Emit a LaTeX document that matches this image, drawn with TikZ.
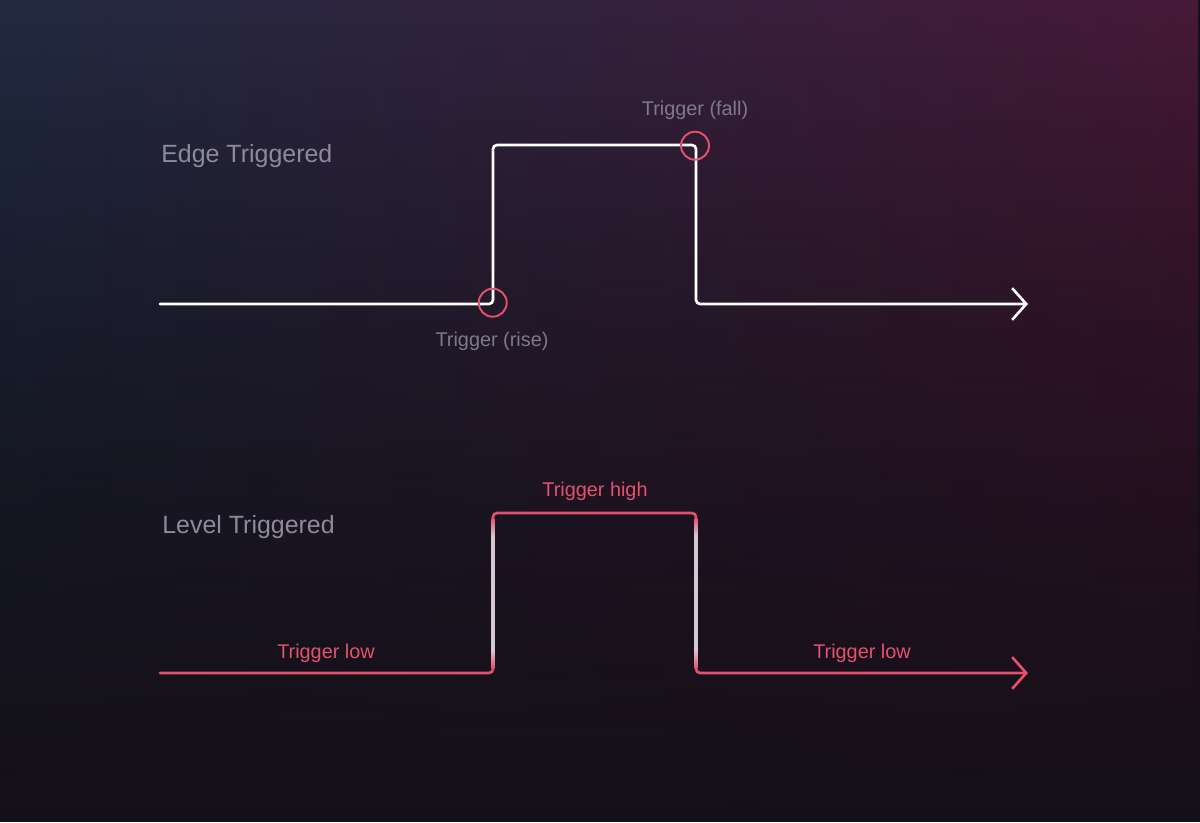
\documentclass[tikz,border=0pt]{standalone}
\usepackage{fontspec}
\setmainfont{Liberation Sans}
\usetikzlibrary{arrows.meta,fadings,positioning}

\definecolor{bgbottom}{HTML}{161119}
\definecolor{bgleft}{HTML}{222B42}
\definecolor{bgright}{HTML}{471A39}
\definecolor{trigred}{HTML}{E5506E}
\definecolor{titlegray}{HTML}{8E8A9C}
\definecolor{notegray}{HTML}{7E798B}
\definecolor{levelwhite}{HTML}{D4C8D3}
\pgfdeclareverticalshading{edgeshade}{100bp}{color(0bp)=(trigred); color(25bp)=(trigred); color(31bp)=(levelwhite); color(69bp)=(levelwhite); color(75bp)=(trigred); color(100bp)=(trigred)}
\tikzfading[name=fadedown, top color=transparent!0, bottom color=transparent!100]

\begin{document}
\begin{tikzpicture}[x=0.02cm, y=-0.02cm, line width=1.5pt,
            signal/.style={
            rounded corners=2.3pt,
            line cap=round,
            -{Straight Barb[length=8pt,width=18pt]}},
            ring/.style={
            circle,
            draw=trigred,
            line width=1.1pt,
            inner sep=0pt,
            minimum size=0.56cm},
            title/.style={
            anchor=base west,
            inner sep=0pt,
            text=titlegray,
            font=\fontsize{14.2}{17}\selectfont},
            note/.style={
            anchor=base,
            text=notegray,
            font=\fontsize{11.3}{13}\selectfont},
            level/.style={
            anchor=base,
            text=trigred,
            font=\fontsize{11.3}{13}\selectfont}]

           \useasboundingbox (0,0) rectangle (1200,822);
           \fill[bgbottom] (0,0) rectangle (1200,822);
           \fill[left color=bgleft, right color=bgright, path fading=fadedown] (0,0) rectangle (1200,822);

           \foreach \w/\hi/\lo in {edge/145/304, level/513/673}
           {
                      \coordinate (start \w) at (160,\lo);
                      \coordinate (rise \w) at (493,\lo);
                      \coordinate (top \w) at (493,\hi);
                      \coordinate (peak \w) at (696,\hi);
                      \coordinate (fall \w) at (696,\lo);
                      \coordinate (end \w) at (1028,\lo);
                  }

           \draw[signal, white] (start edge) -- (rise edge) -- (top edge) -- (peak edge) -- (fall edge) -- (end edge);
           \node[ring] (risering) at (492.7,302.7) {};
           \node[ring] (fallring) at (695,145.7) {};
           \node[title] (edgetitle) at (160,162) {Edge Triggered};
           \node[note] (riselabel) at (492,346) {Trigger (rise)};
           \node[note] (falllabel) at (695,115) {Trigger (fall)};

           \draw[signal, trigred] (start level) -- (rise level) -- (top level) -- (peak level) -- (fall level) -- (end level);
           \foreach \x in {493,696}
                  {\shade[shading=edgeshade] (\x-1.3,518) rectangle (\x+1.3,668);}
           \node[title] (leveltitle) at (161,533) {Level Triggered};
           \node[level] (highlabel) at (595,496) {Trigger high};
           \node[level] (lowleft) at (326,658) {Trigger low};
           \node[level] (lowright) at (862,658) {Trigger low};
   \end{tikzpicture}
\end{document}
